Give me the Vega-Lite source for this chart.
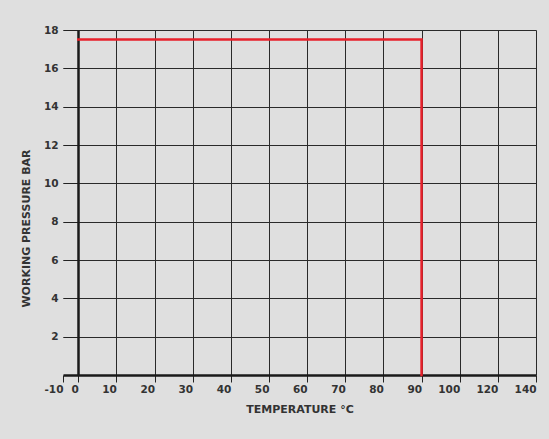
{
  "$schema": "https://vega.github.io/schema/vega-lite/v6.json",
  "width": 473,
  "height": 345,
  "autosize": {"type": "none"},
  "padding": {"left": 63, "top": 30, "right": 13, "bottom": 64},
  "background": "#dfdfdf",
  "config": {
    "view": {"stroke": null},
    "font": "DejaVu Sans",
    "axis": {"labelFont": "DejaVu Sans", "titleFont": "DejaVu Sans"}
  },
  "data": {
    "values": [
      {"temperature": 0, "pressure": 17.5, "order": 1},
      {"temperature": 90, "pressure": 17.5, "order": 2},
      {"temperature": 90, "pressure": 0, "order": 3}
    ]
  },
  "mark": {"type": "line", "color": "#e8212b", "strokeWidth": 2.5, "strokeCap": "square"},
  "encoding": {
    "order": {"field": "order", "type": "quantitative"},
    "x": {
      "field": "temperature",
      "type": "quantitative",
      "scale": {"domain": [-4, 120], "nice": false, "zero": false},
      "axis": {
        "title": "TEMPERATURE °C",
        "values": [-4, 0, 10, 20, 30, 40, 50, 60, 70, 80, 90, 100, 110, 120],
        "labelExpr": "datum.value < 0 ? '-10' : datum.value == 110 ? '120' : datum.value == 120 ? '140' : datum.label",
        "labelAlign": "right",
        "labelDx": -2,
        "labelFontSize": 10.5,
        "labelFontWeight": 600,
        "labelColor": "#333333",
        "labelPadding": 2,
        "tickSize": 7,
        "tickColor": "#222222",
        "tickWidth": 1,
        "domainColor": "#1a1a1a",
        "domainWidth": 2.5,
        "grid": true,
        "gridColor": {"condition": {"test": "datum.value <= 0", "value": "transparent"}, "value": "#2a2a2a"},
        "gridWidth": 1,
        "gridOpacity": 1,
        "titleFontSize": 11,
        "titleFontWeight": "bold",
        "titleColor": "#333333",
        "titlePadding": 9
      }
    },
    "y": {
      "field": "pressure",
      "type": "quantitative",
      "scale": {"domain": [0, 18], "nice": false},
      "axis": {
        "title": "WORKING PRESSURE BAR",
        "values": [2, 4, 6, 8, 10, 12, 14, 16, 18],
        "offset": -15,
        "tickSize": 15,
        "tickColor": "#222222",
        "tickWidth": 1,
        "domainColor": "#1a1a1a",
        "domainWidth": 2.5,
        "labelFontSize": 10.5,
        "labelFontWeight": 600,
        "labelColor": "#333333",
        "labelPadding": 5,
        "grid": true,
        "gridColor": "#2a2a2a",
        "gridWidth": 1,
        "gridOpacity": 1,
        "titleFontSize": 11,
        "titleFontWeight": "bold",
        "titleColor": "#333333",
        "titlePadding": 12,
        "titleY": 198
      }
    }
  }
}
